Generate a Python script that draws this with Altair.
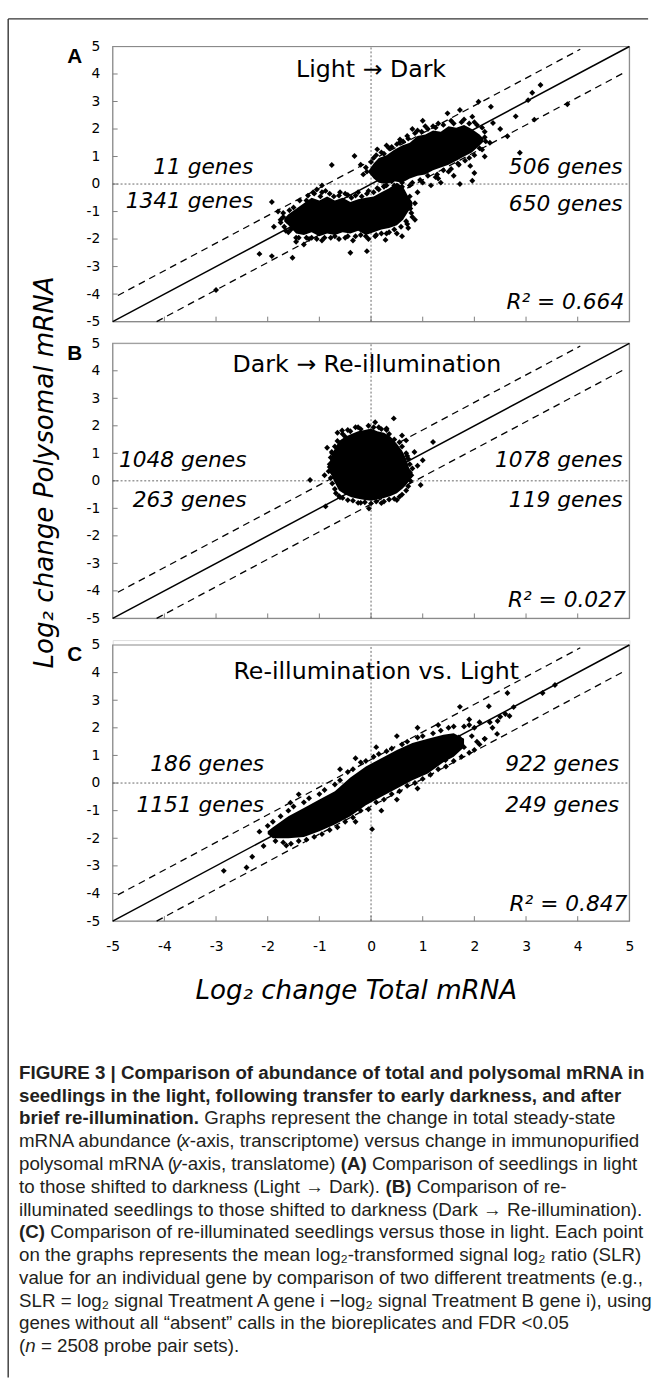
import altair as alt
import pandas as pd

# ---------------- data ----------------
tick_vals = [-5, -4, -3, -2, -1, 0, 1, 2, 3, 4, 5]
inner_ticks = [-4, -3, -2, -1, 0, 1, 2, 3, 4]

# dense (saturated) cores: (x, y_low, y_high)
A_core_lo = [(-1.68, -1.35, -1.25), (-1.6, -1.5, -1.1), (-1.45, -1.8, -0.9), (-1.3, -1.85, -0.7),
             (-1.15, -1.75, -0.5), (-1.0, -1.9, -0.6), (-0.85, -1.8, -0.45), (-0.7, -1.85, -0.6),
             (-0.55, -1.75, -0.5), (-0.4, -1.8, -0.65), (-0.25, -1.7, -0.55), (-0.1, -1.85, -0.5),
             (0.05, -1.75, -0.45), (0.2, -1.65, -0.3), (0.35, -1.6, -0.15), (0.5, -1.5, 0.05),
             (0.62, -1.3, -0.1), (0.72, -1.0, -0.45), (0.8, -0.8, -0.65)]
A_core_hi = [(-0.04, 0.4, 0.5), (0.05, 0.2, 0.75), (0.15, 0.05, 0.95), (0.3, 0.0, 1.05),
             (0.45, 0.1, 1.25), (0.6, 0.05, 1.4), (0.75, 0.2, 1.5), (0.9, 0.3, 1.75), (1.05, 0.35, 1.8),
             (1.2, 0.5, 1.95), (1.35, 0.6, 1.9), (1.5, 0.7, 2.1), (1.65, 0.85, 2.05), (1.8, 1.0, 2.15),
             (1.95, 1.15, 2.0), (2.1, 1.4, 1.8), (2.18, 1.55, 1.65)]
B_core = [(-0.8, 0.35, 0.7), (-0.72, 0.0, 1.1), (-0.62, -0.35, 1.45), (-0.5, -0.5, 1.6),
          (-0.38, -0.6, 1.7), (-0.25, -0.65, 1.8), (-0.12, -0.7, 1.85), (0.0, -0.72, 1.9),
          (0.12, -0.68, 1.8), (0.25, -0.62, 1.75), (0.38, -0.55, 1.6), (0.5, -0.45, 1.35),
          (0.6, -0.3, 1.1), (0.68, -0.15, 0.8), (0.74, 0.0, 0.45), (0.8, 0.15, 0.3)]
C_core = [(-2.0, -1.85, -1.75), (-1.9, -2.0, -1.6), (-1.6, -2.0, -1.2), (-1.3, -1.95, -0.9),
          (-1.0, -1.75, -0.6), (-0.7, -1.5, -0.3), (-0.4, -1.2, 0.2), (-0.1, -0.8, 0.6),
          (0.2, -0.5, 0.9), (0.5, -0.2, 1.2), (0.8, 0.1, 1.45), (1.1, 0.35, 1.6), (1.4, 0.75, 1.75),
          (1.6, 0.95, 1.8), (1.8, 1.3, 1.6)]

# individual genes visible around the cores
A_pts = [(-3.0, -3.85), (-2.16, -2.54), (-1.92, -2.62), (-1.52, -2.68), (-1.88, -1.55), (-1.92, -0.65),
         (-1.75, -1.3), (-1.65, -1.7), (-1.45, -2.1), (-1.3, -2.2), (-1.2, -2.0), (-1.05, -0.2),
         (-0.95, -0.05), (-0.76, 0.69), (-0.4, -2.5), (-0.08, -2.44), (0.28, -2.03), (0.5, -1.8),
         (0.72, -1.6), (0.76, -0.89), (0.85, -1.3), (0.6, -1.9),
         (-1.62, -1.35), (-1.7, -1.05), (-1.6, -1.75), (-1.45, -1.95), (-1.15, -1.95), (-1.25, -0.6),
         (-1.1, -0.35), (-0.95, -0.3), (-0.8, -0.35), (-0.6, -0.3), (-0.45, -0.4), (-0.25, -0.3),
         (-0.05, -0.25), (0.15, -0.2), (-0.9, -1.95), (-0.7, -1.9), (-0.5, -1.95), (-0.3, -1.9),
         (-0.1, -1.9), (0.1, -1.85), (0.3, -1.8), (0.7, -1.45), (0.8, -1.2), (0.85, -0.7),
         (0.75, -0.45), (0.6, 0.05),
         (-1.5, -0.85), (-1.38, -0.6), (-1.22, -0.42), (-1.12, -0.3), (-0.98, -0.45), (-0.88, -0.25),
         (-0.72, -0.45), (-0.62, -0.42), (-0.5, -0.35), (-0.38, -0.5), (-0.3, -0.42), (-0.18, -0.45),
         (-0.08, -0.35), (0.05, -0.3), (0.12, -0.15), (0.25, -0.1), (0.4, 0.1), (0.48, 0.25),
         (0.55, 0.2), (-1.55, -1.65), (-1.4, -1.95), (-1.25, -1.95), (-1.05, -2.0), (-0.95, -2.05),
         (-0.78, -1.95), (-0.62, -2.0), (-0.45, -1.9), (-0.35, -2.05), (-0.2, -1.85), (-0.05, -2.0),
         (0.08, -1.9), (0.2, -1.8), (0.35, -1.75), (0.45, -1.65), (0.58, -1.55), (0.68, -1.35),
         (0.78, -1.05), (-1.75, -1.4), (-1.7, -1.2), (-1.68, -1.55), (-1.8, -1.0), (-1.58, -0.95),
         (-0.32, 1.02), (-0.2, 0.7), (0.12, 1.26), (0.3, 1.4), (0.56, 1.62), (0.8, 2.0), (1.0, 2.3),
         (1.2, 2.1), (1.48, 2.57), (1.72, 2.69), (1.96, 2.45), (2.08, 2.99), (2.32, 2.81), (2.36, 2.22),
         (2.5, 2.0), (2.64, 1.74), (2.8, 2.46), (2.88, 1.14), (3.04, 3.05), (3.12, 3.32), (3.16, 2.34),
         (3.28, 3.6), (3.8, 2.9), (1.72, 0.0), (1.96, 0.12), (1.92, 0.66), (2.2, 1.0), (2.3, 1.5),
         (1.16, -0.05), (1.3, 0.2), (0.9, -0.3), (1.35, 0.05), (2.0, 0.4), (1.6, 0.3),
         (-0.15, 0.35), (-0.1, 0.6), (0.05, 0.95), (0.2, 1.15), (0.35, 1.3), (0.55, 1.5), (0.7, 1.75),
         (0.9, 1.95), (1.05, 2.1), (1.3, 2.2), (1.55, 2.3), (1.8, 2.35), (2.0, 2.25), (2.15, 2.05),
         (2.2, 1.7), (2.1, 1.3), (1.9, 0.95), (1.7, 0.7), (1.5, 0.45), (1.25, 0.25), (1.0, 0.05),
         (0.75, -0.05), (0.3, -0.05),
         (-0.08, 0.45), (0.0, 0.8), (0.1, 1.05), (0.25, 1.1), (0.4, 1.35), (0.5, 1.45), (0.62, 1.55),
         (0.72, 1.65), (0.85, 1.85), (0.98, 1.9), (1.1, 2.0), (1.25, 2.05), (1.4, 2.15), (1.6, 2.2),
         (1.75, 2.25), (1.9, 2.2), (2.05, 2.15), (0.25, -0.08), (0.45, -0.05), (0.6, -0.1),
         (0.8, 0.05), (0.95, 0.15), (1.1, 0.3), (1.28, 0.35), (1.4, 0.5), (1.55, 0.55), (1.68, 0.75),
         (1.82, 0.85), (2.0, 1.05), (2.15, 1.25), (2.22, 1.55), (2.2, 1.9)]
B_pts = [(-1.18, 0.03), (-0.56, 1.83), (0.08, 2.13), (0.44, 2.27), (1.2, 1.41), (0.84, 1.05),
         (0.68, 1.47), (0.96, -0.15), (-0.88, -0.93), (-0.04, -1.01), (0.2, -0.81), (-0.76, 1.05),
         (-0.8, 0.6), (-0.75, 0.3), (-0.7, -0.3), (0.75, 0.3), (0.7, 0.9), (-0.3, 1.95), (0.3, 1.9),
         (-0.6, -0.6), (0.5, -0.7), (-0.2, -0.8), (0.55, 1.4), (-0.5, 1.6),
         (-0.45, 1.85), (-0.25, 1.95), (-0.05, 2.0), (0.15, 1.95), (0.3, 1.85), (-0.75, 1.0),
         (-0.8, 0.5), (-0.78, 0.1), (-0.62, -0.55), (-0.65, 1.45), (0.68, 1.0), (0.75, 0.6),
         (0.78, 0.2), (0.72, -0.2), (0.6, -0.5), (-0.45, -0.7), (-0.25, -0.8), (0.0, -0.82),
         (0.25, -0.75), (0.45, -0.65),
         (-0.55, 1.7), (-0.4, 1.8), (-0.2, 1.88), (0.05, 1.95), (0.2, 1.88), (0.35, 1.7), (0.45, 1.5),
         (-0.7, 1.25), (-0.78, 0.85), (-0.82, 0.35), (-0.75, -0.1), (-0.68, -0.45), (0.6, 1.25),
         (0.72, 0.8), (0.8, 0.45), (0.76, 0.0), (0.68, -0.35), (0.55, -0.58), (-0.55, -0.62),
         (-0.35, -0.72), (-0.12, -0.78), (0.1, -0.75), (0.35, -0.68), (0.9, 0.55), (1.0, 0.75),
         (-0.9, 0.2), (-0.85, 1.2), (0.6, 1.65), (-0.65, 1.75)]
C_pts = [(-2.85, -3.18), (-2.41, -3.06), (-2.3, -2.67), (-2.08, -2.28), (-2.16, -1.76), (-1.94, -1.81),
         (-1.64, -2.26), (-1.4, -1.79), (0.02, -1.67), (-1.56, -0.71), (-1.4, -0.41), (1.72, 2.76),
         (2.28, 2.78), (2.76, 2.75), (2.64, 3.26), (3.56, 3.55), (3.32, 3.26), (2.44, 1.78),
         (1.44, 0.83), (2.68, 2.43), (2.5, 2.4), (2.3, 2.2), (2.0, 2.0), (1.9, 2.3), (2.6, 2.5),
         (2.2, 1.6), (1.8, 1.3), (0.9, -0.2), (0.5, -0.6), (0.2, -1.0), (-0.3, -1.4), (-0.6, 0.5),
         (-0.3, 0.9), (0.1, 1.3), (0.5, 1.7), (0.9, 2.0), (1.3, 2.1),
         (-1.9, -1.4), (-1.6, -1.0), (-1.3, -0.7), (-1.0, -0.4), (-0.7, -0.05), (-0.45, 0.4),
         (-0.2, 0.75), (0.05, 0.95), (0.3, 1.15), (0.6, 1.4), (0.9, 1.65), (1.2, 1.8), (1.5, 2.0),
         (1.8, 2.05), (-1.7, -2.15), (-1.4, -2.1), (-1.1, -1.95), (-0.8, -1.7), (-0.5, -1.4),
         (-0.2, -1.0), (0.1, -0.7), (0.4, -0.4), (0.7, -0.1), (1.0, 0.15), (1.3, 0.5), (1.6, 0.8),
         (1.9, 1.1), (2.1, 1.4),
         (-2.0, -1.55), (-1.75, -1.2), (-1.5, -0.85), (-1.2, -0.55), (-0.9, -0.25), (-0.6, 0.1),
         (-0.35, 0.5), (-0.1, 0.8), (0.15, 1.05), (0.4, 1.25), (0.7, 1.5), (1.0, 1.7), (1.35, 1.9),
         (1.6, 2.05), (1.9, 2.1), (2.1, 2.2), (-1.85, -2.1), (-1.55, -2.2), (-1.25, -2.05),
         (-0.95, -1.85), (-0.65, -1.6), (-0.35, -1.25), (-0.05, -0.95), (0.25, -0.6), (0.55, -0.3),
         (0.85, 0.0), (1.15, 0.3), (1.45, 0.6), (1.75, 0.95), (2.0, 1.2), (2.2, 1.6),
         (1.95, 1.7), (2.05, 1.5), (1.7, 1.65), (2.35, 2.0), (2.45, 2.25)]

# reference lines (x1, y1, x2, y2)
solid_line = [(-5, -5, 5, 5)]
dashed_lines = [(-4.9, -4.05, 4.05, 4.9), (-4.15, -5.0, 4.9, 4.05)]

# quadrant counts: (text, x, y) right-aligned at x
A_counts = [("11 genes", -2.28, 0.38), ("1341 genes", -2.28, -0.88),
            ("506 genes", 4.87, 0.38), ("650 genes", 4.87, -0.97)]
B_counts = [("1048 genes", -2.41, 0.52), ("263 genes", -2.41, -0.95),
            ("1078 genes", 4.87, 0.52), ("119 genes", 4.87, -0.95)]
C_counts = [("186 genes", -2.07, 0.43), ("1151 genes", -2.07, -1.04),
            ("922 genes", 4.8, 0.43), ("249 genes", 4.8, -1.04)]
titles = [("Light → Dark", 0.0, 3.9), ("Dark → Re-illumination", -0.08, 3.94),
          ("Re-illumination vs. Light", 0.1, 3.77)]
r2 = [("R² = 0.664", 4.9, -4.53), ("R² = 0.027", 4.93, -4.57), ("R² = 0.847", 4.96, -4.64)]
letters = ["A", "B", "C"]

caption = [
    [("FIGURE 3 | Comparison of abundance of total and polysomal mRNA in", "b")],
    [("seedlings in the light, following transfer to early darkness, and after", "b")],
    [("brief re-illumination.", "b"), (" Graphs represent the change in total steady-state", "r")],
    [("mRNA abundance (", "r"), ("x", "i"), ("-axis, transcriptome) versus change in immunopurified", "r")],
    [("polysomal mRNA (", "r"), ("y", "i"), ("-axis, translatome) ", "r"), ("(A)", "b"),
     (" Comparison of seedlings in light", "r")],
    [("to those shifted to darkness (Light → Dark). ", "r"), ("(B)", "b"), (" Comparison of re-", "r")],
    [("illuminated seedlings to those shifted to darkness (Dark → Re-illumination).", "r")],
    [("(C)", "b"), (" Comparison of re-illuminated seedlings versus those in light. Each point", "r")],
    [("on the graphs represents the mean log₂-transformed signal log₂ ratio (SLR)", "r")],
    [("value for an individual gene by comparison of two different treatments (e.g.,", "r")],
    [("SLR = log₂ signal Treatment A gene i −log₂ signal Treatment B gene i), using", "r")],
    [("genes without all “absent” calls in the bioreplicates and FDR <0.05", "r")],
    [("(", "r"), ("n", "i"), (" = 2508 probe pair sets).", "r")],
]

# ---------------- layout constants (pixels) ----------------
W = 524
LEFT = 113
TOPS = [36, 337, 643]
HS = [279, 279, 280]
GAP = 22
GROUP_TOPS = [TOPS[0], TOPS[0] + HS[0] + GAP, TOPS[0] + HS[0] + GAP + HS[1] + GAP]
OFFS = [TOPS[i] - GROUP_TOPS[i] for i in range(3)]

PLOT_FONT = "DejaVu Sans"
CAP_FONT = "Liberation Sans"
CAP_SIZE = 19
CAP_LEAD = 23.1
CAP_X0 = 18
CAP_BASE0 = 1083

# Arial-compatible advance widths (per 1000 em) to place mixed-style caption runs
_R = {' ': 278, '(': 333, ')': 333, ',': 278, '-': 333, '.': 278, '<': 584, '=': 584, '|': 260,
      '“': 333, '”': 333, '→': 1000, '−': 584, '₂': 370, 'A': 667, 'B': 667, 'C': 722, 'D': 722,
      'E': 667, 'F': 611, 'G': 778, 'L': 556, 'R': 722, 'S': 667, 'T': 611,
      'a': 556, 'b': 556, 'c': 500, 'd': 556, 'e': 556, 'f': 278, 'g': 556, 'h': 556, 'i': 222,
      'j': 222, 'k': 500, 'l': 222, 'm': 833, 'n': 556, 'o': 556, 'p': 556, 'q': 556, 'r': 333,
      's': 500, 't': 278, 'u': 556, 'v': 500, 'w': 722, 'x': 500, 'y': 500, 'z': 500}
_B = {' ': 278, '(': 333, ')': 333, ',': 278, '-': 333, '.': 278, '|': 280, 'A': 722, 'B': 722,
      'C': 722, 'E': 667, 'F': 611, 'G': 778, 'I': 278, 'R': 722, 'U': 722, 'N': 722,
      'a': 556, 'b': 611, 'c': 556, 'd': 611, 'e': 556, 'f': 333, 'g': 611, 'h': 611, 'i': 278,
      'k': 556, 'l': 278, 'm': 889, 'n': 611, 'o': 611, 'p': 611, 'r': 389, 's': 556, 't': 333,
      'u': 611, 'w': 778, 'y': 556, 'v': 556, 'x': 556}


def text_w(s, style):
    tab = _B if style == "b" else _R
    return sum(tab.get(ch, 556) for ch in s) * CAP_SIZE / 1000.0


LABEL_EXPR = "'' + datum.value"


def enc_xy(i, show_x):
    xa = alt.Axis(values=tick_vals, ticks=False, domain=False, grid=False, title=None,
                  labelFont=PLOT_FONT, labelFontSize=14, labelColor="black", labelPadding=19,
                  labelFlush=False, labelOverlap=False, labelExpr=LABEL_EXPR) if show_x else None
    ya = alt.Axis(values=tick_vals, ticks=False, domain=False, grid=False, title=None,
                  labelFont=PLOT_FONT, labelFontSize=14, labelColor="black", labelPadding=13,
                  labelFlush=False, labelOverlap=False, labelExpr=LABEL_EXPR)
    X = alt.X("x:Q", scale=alt.Scale(domain=[-5, 5], nice=False, zero=False), axis=xa)
    Y = alt.Y("y:Q", scale=alt.Scale(domain=[-5, 5], nice=False, zero=False,
                                     range=[OFFS[i] + HS[i], OFFS[i]]), axis=ya)
    return X, Y


def panel(i, cores, pts, counts, show_x, extra=None):
    X, Y = enc_xy(i, show_x)
    h = HS[i]
    px_x = W / 10.0
    px_y = h / 10.0
    frame = alt.Chart(pd.DataFrame([{"x": -5, "x2": 5, "y": -5, "y2": 5}])).mark_rect(
        fillOpacity=0, stroke="#8a8a8a", strokeWidth=1.2).encode(x=X, y=Y, x2="x2:Q", y2="y2:Q")
    tick_rows = ([{"x": -5, "x2": -5 + 5 / px_x, "y": v, "y2": v} for v in inner_ticks] +
                 [{"x": v, "x2": v, "y": -5, "y2": -5 + 5 / px_y} for v in inner_ticks])
    ticks = alt.Chart(pd.DataFrame(tick_rows)).mark_rule(color="#7f7f7f", strokeWidth=1).encode(
        x=X, y=Y, x2="x2:Q", y2="y2:Q")
    zero_rows = [{"x": 0, "x2": 0, "y": -5, "y2": 5}, {"x": -5, "x2": 5, "y": 0, "y2": 0}]
    zeros = alt.Chart(pd.DataFrame(zero_rows)).mark_rule(
        color="#555555", strokeWidth=0.9, strokeDash=[2, 2]).encode(x=X, y=Y, x2="x2:Q", y2="y2:Q")
    sol = alt.Chart(pd.DataFrame(solid_line, columns=["x", "y", "x2", "y2"])).mark_rule(
        color="black", strokeWidth=1.5).encode(x=X, y=Y, x2="x2:Q", y2="y2:Q")
    dash = alt.Chart(pd.DataFrame(dashed_lines, columns=["x", "y", "x2", "y2"])).mark_rule(
        color="black", strokeWidth=1.3, strokeDash=[7, 5]).encode(x=X, y=Y, x2="x2:Q", y2="y2:Q")
    core_rows = []
    for g, core in enumerate(cores):
        for (cx, lo, hi) in core:
            core_rows.append({"g": g, "x": cx, "y": lo, "y2": hi})
    core_ch = alt.Chart(pd.DataFrame(core_rows)).mark_area(
        color="black", opacity=1, interpolate="linear").encode(x=X, y=Y, y2="y2:Q", detail="g:N")
    points = alt.Chart(pd.DataFrame(pts, columns=["x", "y"])).mark_point(
        shape="diamond", filled=True, size=36, color="black", opacity=1).encode(x=X, y=Y)
    cnt = alt.Chart(pd.DataFrame(counts, columns=["t", "x", "y"])).mark_text(
        font=PLOT_FONT, fontSize=22, fontStyle="italic", align="right", baseline="alphabetic",
        color="black").encode(x=X, y=Y, text="t:N")
    ttl = alt.Chart(pd.DataFrame([titles[i]], columns=["t", "x", "y"])).mark_text(
        font=PLOT_FONT, fontSize=24, align="center", baseline="alphabetic", color="black").encode(
        x=X, y=Y, text="t:N")
    rr = alt.Chart(pd.DataFrame([r2[i]], columns=["t", "x", "y"])).mark_text(
        font=PLOT_FONT, fontSize=22, fontStyle="italic", align="right", baseline="alphabetic",
        color="black").encode(x=X, y=Y, text="t:N")
    let = alt.Chart(pd.DataFrame({"t": [letters[i]]})).mark_text(
        font="Liberation Sans", fontSize=21, fontWeight="bold", align="center",
        baseline="alphabetic", color="black").encode(
        x=alt.value(-38.5), y=alt.value(OFFS[i] + 16.5), text="t:N")
    layers = [frame, ticks, zeros, sol, dash, core_ch, points, cnt, ttl, rr, let]
    if extra:
        layers += extra
    return alt.layer(*layers).properties(width=W, height=OFFS[i] + h)


border_v = alt.Chart(pd.DataFrame({"k": [0]})).mark_rule(color="#333333", strokeWidth=1.4).encode(
    x=alt.value(7 - LEFT), y=alt.value(8 - GROUP_TOPS[0]), y2=alt.value(1386 - GROUP_TOPS[0]))
border_h = alt.Chart(pd.DataFrame({"k": [0]})).mark_rule(color="#333333", strokeWidth=1.4).encode(
    x=alt.value(7 - LEFT), x2=alt.value(656 - LEFT), y=alt.value(8 - GROUP_TOPS[0]))

ytitle = alt.Chart(pd.DataFrame({"t": ["Log₂ change Polysomal mRNA"]})).mark_text(
    font=PLOT_FONT, fontSize=26.5, fontStyle="italic", angle=270, align="center",
    baseline="alphabetic", color="black").encode(
    x=alt.value(52 - LEFT), y=alt.value(468 - GROUP_TOPS[1]), text="t:N")

xtitle = alt.Chart(pd.DataFrame({"t": ["Log₂ change Total mRNA"]})).mark_text(
    font=PLOT_FONT, fontSize=26.5, fontStyle="italic", align="center",
    baseline="alphabetic", color="black").encode(
    x=alt.value(360 - LEFT), y=alt.value(1002 - GROUP_TOPS[2]), text="t:N")

cap_rows = []
for li, segs in enumerate(caption):
    cur = 0.0
    base = CAP_BASE0 + li * CAP_LEAD
    for s, st in segs:
        lead = len(s) - len(s.lstrip(" "))
        cur += lead * text_w(" ", st)
        core_txt = s.strip(" ")
        px = CAP_X0 + cur
        cap_rows.append({"x": -5 + (px - LEFT) / (W / 10.0),
                         "y": 5 - (base - TOPS[2]) / (HS[2] / 10.0),
                         "t": core_txt, "st": st})
        cur += text_w(core_txt, st)
        trail = len(s) - len(s.rstrip(" "))
        cur += trail * text_w(" ", st)
cap_df = pd.DataFrame(cap_rows)
Xc, Yc = enc_xy(2, True)
cap_layers = []
for st, kw in [("r", {}), ("b", {"fontWeight": "bold"}), ("i", {"fontStyle": "italic"})]:
    sub = cap_df[cap_df["st"] == st]
    cap_layers.append(alt.Chart(sub).mark_text(
        font=CAP_FONT, fontSize=CAP_SIZE, align="left", baseline="alphabetic", color="#231f20",
        **kw).encode(x=Xc, y=Yc, text="t:N"))

pA = panel(0, [A_core_lo, A_core_hi], A_pts, A_counts, False, [border_v, border_h])
pB = panel(1, [B_core], B_pts, B_counts, False, [ytitle])
pC = panel(2, [C_core], C_pts, C_counts, True, [xtitle] + cap_layers)

chart = alt.vconcat(pA, pB, pC, spacing=GAP, bounds="flush").properties(
    padding={"left": 6.3, "top": 7.3, "right": 0, "bottom": 0}
).configure_view(stroke="transparent").configure(background="white")

chart.save("out.html", embed_options={"renderer": "svg", "actions": False})
